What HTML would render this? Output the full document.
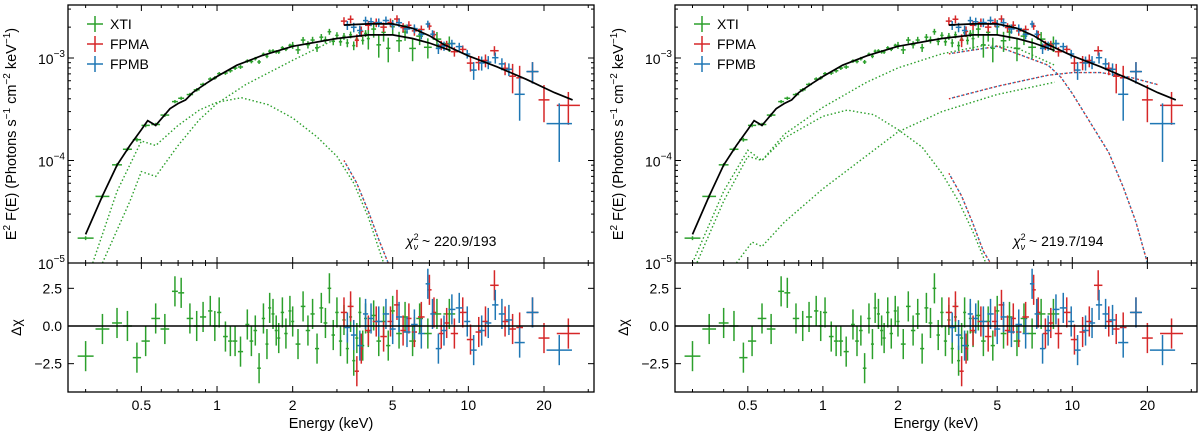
<!DOCTYPE html>
<html><head><meta charset="utf-8"><style>
html,body{margin:0;padding:0;background:#fff;width:1200px;height:433px;overflow:hidden}
svg{display:block;font-family:"Liberation Sans","DejaVu Sans",sans-serif}
</style></head><body>
<svg id="fig" width="1200" height="433" viewBox="0 0 1200 433" xmlns="http://www.w3.org/2000/svg"></svg>
<script>
// ---- data (shared observations) ----
const xtiE=[0.3,0.35,0.4,0.44,0.48,0.52,0.57,0.62,0.68,0.72,0.78,0.83,0.88,0.94,0.98,1.02,1.08,1.13,1.18,1.24,1.32,1.37,1.42,1.47,1.53,1.58,1.62,1.67,1.72,1.76,1.82,1.88,1.95,2.0,2.1,2.2,2.3,2.4,2.5,2.6,2.7,2.8,2.9,3.0,3.1,3.2,3.3,3.4,3.5,3.6,3.7,3.8,3.9,4.0,4.2,4.4,4.6,4.8,5.0,5.3,5.6,6.0,6.4,6.9,7.5,8.4];
const xtiRes=[-2.0,-0.2,0.2,0.0,-2.1,-1.0,0.5,-0.2,2.3,2.2,0.5,0.0,0.6,1.0,0.0,0.9,-0.7,-1.0,-1.0,-1.7,0.1,-1.0,-0.3,-2.8,0.5,-1.2,1.2,0.8,-0.3,-0.8,0.9,-0.5,1.0,0.3,-1.2,1.3,-0.3,0.8,-1.5,1.2,0.2,2.5,-0.6,0.9,-1.0,0.4,-1.5,0.6,-2.3,-0.8,0.9,-1.3,0.5,-0.4,0.7,-1.0,0.3,-1.3,1.0,-0.5,0.6,-1.0,0.5,-0.5,0.8,0.8];
const fpmaE=[3.2,3.4,3.6,3.75,4.0,4.3,4.6,4.9,5.2,5.5,5.8,6.1,6.5,7.0,7.3,7.8,8.2,8.8,9.5,10.2,11.0,11.7,12.7,14.0,15.0,16.0,18.0,20.0,25.0];
const fpmaRes=[0.9,1.3,-3.0,-1.5,-0.3,0.3,-0.7,0.3,1.4,-0.3,0.5,-0.4,0.6,2.4,0.9,-0.5,0.2,-0.5,0.9,-0.9,-0.4,0.3,2.7,0.3,-0.2,-0.1,0.9,-0.8,-0.5];
const fpmbE=[3.3,3.5,3.7,3.9,4.1,4.4,4.7,5.0,5.3,5.7,6.1,6.5,6.9,7.2,7.6,8.0,8.6,9.2,9.9,10.5,11.3,12.0,12.8,13.6,14.5,16.0,18.0,23.0];
const fpmbRes=[-0.1,-0.6,-1.3,0.8,0.5,0.3,0.8,-0.2,0.6,-0.4,0.1,-0.5,2.8,0.8,-1.5,-0.3,1.1,1.2,0.3,-1.6,-0.3,0.2,1.4,0.8,0.4,-1.1,0.9,-1.6];
// ---- models ----
const mXtiE=[0.3,0.35,0.4,0.45,0.5,0.53,0.57,0.65,0.7,0.75,0.8,0.9,1,1.2,1.5,2,3,4,5,6,7,8.5];
const mXtiF=[1.9e-5,4.5e-5,9e-5,1.4e-4,2.0e-4,2.45e-4,2.2e-4,3.2e-4,3.6e-4,3.9e-4,4.6e-4,5.6e-4,6.6e-4,8.5e-4,1.05e-3,1.3e-3,1.55e-3,1.68e-3,1.68e-3,1.55e-3,1.4e-3,1.18e-3];
const mNuE=[3.2,4,5,6,7,8,10,13,17,22,26];
const mNuF=[2.1e-3,2.15e-3,2.15e-3,1.95e-3,1.65e-3,1.35e-3,1.05e-3,8.2e-4,6.2e-4,4.6e-4,3.9e-4];
// left components
const L_diskE=[0.32,0.4,0.5,0.57,0.7,0.85,1,1.25,1.6,2,2.5,3,3.5,4,4.6];
const L_diskF=[1e-5,5e-5,1.55e-4,1.4e-4,2.2e-4,3.1e-4,3.7e-4,4.1e-4,3.5e-4,2.6e-4,1.7e-4,1.1e-4,6e-5,2.8e-5,1e-5];
const L_compE=[0.35,0.45,0.5,0.57,0.7,0.85,1,1.3,2,3];
const L_compF=[1e-5,4e-5,7.8e-5,7e-5,1.4e-4,2.5e-4,3.6e-4,5.5e-4,9.5e-4,1.55e-3];
const L_nuDiskE=[3.2,3.6,4,4.4,4.8];
const L_nuDiskF=[1e-4,6e-5,3.2e-5,1.7e-5,1e-5];
// right components
const R_c1E=[0.3,0.4,0.5,0.57,0.7,1,1.5,2,3,4.5,6,8.5];
const R_c1F=[1e-5,5e-5,1.26e-4,1e-4,1.8e-4,3.3e-4,5.8e-4,8e-4,1.1e-3,1.34e-3,1.25e-3,8.5e-4];
const R_nuC1E=[3.2,5,8,9,10,12,14,16,18,20];
const R_nuC1F=[1.1e-3,1.3e-3,8.5e-4,6.5e-4,4.5e-4,2.2e-4,1.2e-4,5.5e-5,2.5e-5,1e-5];
const R_diskE=[0.3,0.4,0.5,0.57,0.7,1,1.25,1.6,2,2.5,3,3.5,4,4.5];
const R_diskF=[8e-6,4e-5,1.1e-4,1e-4,1.65e-4,2.7e-4,3.1e-4,2.8e-4,2e-4,1.35e-4,7.5e-5,4e-5,2e-5,1e-5];
const R_nuDiskE=[3.2,3.6,4,4.4,4.7];
const R_nuDiskF=[7.5e-5,4.5e-5,2.4e-5,1.3e-5,1e-5];
const R_plE=[0.45,0.52,0.57,0.7,1,2,3,5,8.5];
const R_plF=[1e-5,1.6e-5,1.45e-5,2.5e-5,5.3e-5,1.9e-4,3e-4,4.4e-4,5.8e-4];
const R_nuPlE=[3.2,5,8,10,13,17,22];
const R_nuPlF=[4e-4,5.3e-4,6.8e-4,7.2e-4,7.2e-4,6.5e-4,5.5e-4];
const xMajor=[0.5,1,2,5,10,20];
const xMinor=[0.3,0.4,0.6,0.7,0.8,0.9,3,4,6,7,8,9,30];
const resTicks=[-2.5,0,2.5];
const resLabels=["\u22122.5","0.0","2.5"];
const fluxMajor=[-5,-4,-3];
const chiLabels=["220.9/193","219.7/194"];

const NS="http://www.w3.org/2000/svg";
const svg=document.getElementById('fig');
const G='#2ca02c',R='#d62728',B='#1f77b4';
const LX0=-0.593,LX1=1.50,TOP=5,MID=263,BOT=392,YLOG0=-5,YLOG1=-2.483,RMIN=-4.38,RMAX=4.18;
const FS=14;
function el(tag,attrs,parent){const e=document.createElementNS(NS,tag);for(const k in attrs)e.setAttribute(k,attrs[k]);(parent||svg).appendChild(e);return e;}
function interp(E,xs,ys){const l=Math.log10(E);for(let i=0;i<xs.length-1;i++){const a=Math.log10(xs[i]),b=Math.log10(xs[i+1]);if(l<=b||i==xs.length-2){const t=(l-a)/(b-a);return Math.pow(10,Math.log10(ys[i])+t*(Math.log10(ys[i+1])-Math.log10(ys[i])));}}}
function xtiErr(E){return E<2?0.04:(E<4?0.08:0.2);}
function nuErr(E){return E<10?0.1:(E<15?0.15:0.3);}

function panel(x0,x1,idx,comps){
  const sx=E=>x0+(Math.log10(E)-LX0)/(LX1-LX0)*(x1-x0);
  const sy=F=>MID-(Math.log10(F)-YLOG0)/(YLOG1-YLOG0)*(MID-TOP);
  const sr=r=>MID+(RMAX-r)/(RMAX-RMIN)*(BOT-MID);
  const g=el('g',{});
  
  
  const cid='clip'+idx;
  const cp=el('clipPath',{id:cid},g);el('rect',{x:x0,y:TOP,width:x1-x0,height:MID-TOP},cp);
  const cid2='clipr'+idx;
  const cp2=el('clipPath',{id:cid2},g);el('rect',{x:x0,y:MID,width:x1-x0,height:BOT-MID},cp2);
  const up=el('g',{'clip-path':'url(#'+cid+')'},g);
  const lo=el('g',{'clip-path':'url(#'+cid2+')'},g);
  function curve(xs,ys,color,dash,w,off,name){
    const p=el('polyline',{points:xs.map((E,i)=>sx(E).toFixed(1)+','+sy(ys[i]).toFixed(1)).join(' '),fill:'none',stroke:color,'stroke-width':w,'stroke-dasharray':dash||'none','stroke-dashoffset':off||0},up);
    
    
  }
  comps.forEach(c=>{
    if(c.nu){curve(c.E,c.F,R,'1.6,3.2',1.4,0,'model-component-fpma');curve(c.E,c.F,B,'1.6,3.2',1.4,1.6,'model-component-fpmb');}
    else curve(c.E,c.F,G,'1.5,2.3',1.4,0,'model-component-xti');
  });
  function points(Es,Rs,color,errf,mE,mF,name){
    Es.forEach((E,i)=>{
      const l=Math.log10(E);
      const lp=i>0?Math.log10(Es[i-1]):l-(Math.log10(Es[i+1])-l);
      const ln=i<Es.length-1?Math.log10(Es[i+1]):l+(l-lp);
      const hw=Math.max(0.006,Math.min(l-lp,ln-l)/2*0.95);
      const xa=sx(Math.pow(10,l-hw)),xb=sx(Math.pow(10,l+hw)),xc=sx(E);
      const m=interp(E,mE,mF),s=errf(E)*m,F=m+Rs[i]*s;
      const gp=el('g',{stroke:color,'stroke-width':1.5},up);
      
      
      el('line',{x1:xa,x2:xb,y1:sy(F),y2:sy(F)},gp);
      el('line',{x1:xc,x2:xc,y1:sy(F-s),y2:sy(Math.max(F+s,1e-7))},gp);
      const gr=el('g',{stroke:color,'stroke-width':1.5},lo);
      
      
      el('line',{x1:xa,x2:xb,y1:sr(Rs[i]),y2:sr(Rs[i])},gr);
      el('line',{x1:xc,x2:xc,y1:sr(Rs[i]-1),y2:sr(Rs[i]+1)},gr);
    });
  }
  points(xtiE,xtiRes,G,xtiErr,mXtiE,mXtiF,'xti');
  points(fpmaE,fpmaRes,R,nuErr,mNuE,mNuF,'fpma');
  points(fpmbE,fpmbRes,B,nuErr,mNuE,mNuF,'fpmb');
  curve(mXtiE,mXtiF,'#000','',1.7,0,'model-total-xti');
  curve(mNuE,mNuF,'#000','',1.7,0,'model-total-nustar');
  const zl=el('line',{x1:x0,x2:x1,y1:sr(0),y2:sr(0),stroke:'#000','stroke-width':1.5},g);
  
  
  el('rect',{x:x0,y:TOP,width:x1-x0,height:BOT-TOP,fill:'none',stroke:'#000','stroke-width':1.3},g);
  el('line',{x1:x0,x2:x1,y1:MID,y2:MID,stroke:'#000','stroke-width':1.3},g);
  const tk=el('g',{stroke:'#000','stroke-width':1},g);
  function xt(E,len){const x=sx(E);if(x<x0||x>x1)return;
    [[TOP,1],[MID,-1],[MID,1],[BOT,-1]].forEach(([y,d])=>el('line',{x1:x,x2:x,y1:y,y2:y+d*len},tk));}
  xMajor.forEach(E=>xt(E,6));xMinor.forEach(E=>xt(E,3));
  xMajor.forEach(E=>{const t=el('text',{x:sx(E),y:410,'font-size':FS,'text-anchor':'middle',fill:'#000'},g);t.textContent=String(E);
    
    });
  fluxMajor.forEach(p=>{const y=sy(Math.pow(10,p));
    el('line',{x1:x0,x2:x0+6,y1:y,y2:y},tk);el('line',{x1:x1,x2:x1-6,y1:y,y2:y},tk);
    for(let k=2;k<10;k++){const yy=sy(k*Math.pow(10,p));if(yy<TOP)break;el('line',{x1:x0,x2:x0+3,y1:yy,y2:yy},tk);el('line',{x1:x1,x2:x1-3,y1:yy,y2:yy},tk);}
    const t=el('text',{x:x0-3,y:y+6,'font-size':FS,'text-anchor':'end',fill:'#000'},g);
    
    
    t.innerHTML='10<tspan dy="-7" font-size="10">\u2212'+(-p)+'</tspan>';});
  resTicks.forEach((r,i)=>{const y=sr(r);
    el('line',{x1:x0,x2:x0+6,y1:y,y2:y},tk);el('line',{x1:x1,x2:x1-6,y1:y,y2:y},tk);
    const t=el('text',{x:x0-6,y:y+5,'font-size':FS,'text-anchor':'end',fill:'#000'},g);t.textContent=resLabels[i];
    
    });
  const yl=el('text',{x:0,y:0,'font-size':14.5,'text-anchor':'middle',fill:'#000',transform:'translate('+(x0-52)+','+((TOP+MID)/2)+') rotate(-90)'},g);
  
  
  yl.innerHTML='E<tspan dy="-6" font-size="10">2</tspan><tspan dy="6"> F(E) (Photons s</tspan><tspan dy="-6" font-size="10">\u22121</tspan><tspan dy="6"> cm</tspan><tspan dy="-6" font-size="10">\u22122</tspan><tspan dy="6"> keV</tspan><tspan dy="-6" font-size="10">\u22121</tspan><tspan dy="6">)</tspan>';
  const rl=el('text',{x:0,y:0,'font-size':FS,'text-anchor':'middle',fill:'#000',transform:'translate('+(x0-47)+','+((MID+BOT)/2)+') rotate(-90)'},g);
  rl.textContent='\u0394\u03c7';
  
  
  const xl=el('text',{x:(x0+x1)/2,y:428,'font-size':FS+0.5,'text-anchor':'middle',fill:'#000'},g);
  xl.textContent='Energy (keV)';
  
  
  const ch=el('text',{x:x0+338,y:246,'font-size':FS,fill:'#000'},g);
  
  
  ch.innerHTML='<tspan font-style="italic">\u03c7</tspan><tspan dy="-6" font-size="9">2</tspan><tspan dx="-5" dy="10" font-size="9" font-style="italic">\u03bd</tspan><tspan dy="-4"> ~ '+chiLabels[idx]+'</tspan>';
  [['XTI',G],['FPMA',R],['FPMB',B]].forEach(([n,c],i)=>{
    const lg=el('g',{},g);
    
    
    const y=24+i*20,x=x0+27;
    el('line',{x1:x-8,x2:x+8,y1:y,y2:y,stroke:c,'stroke-width':1.5},lg);
    el('line',{x1:x,x2:x,y1:y-8,y2:y+8,stroke:c,'stroke-width':1.5},lg);
    const t=el('text',{x:x+15,y:y+5,'font-size':FS,fill:'#000'},lg);t.textContent=n;
  });
}
panel(68,594,0,[{E:L_compE,F:L_compF},{E:L_diskE,F:L_diskF},{E:L_nuDiskE,F:L_nuDiskF,nu:1}]);
panel(675,1197,1,[{E:R_c1E,F:R_c1F},{E:R_diskE,F:R_diskF},{E:R_plE,F:R_plF},{E:R_nuC1E,F:R_nuC1F,nu:1},{E:R_nuDiskE,F:R_nuDiskF,nu:1},{E:R_nuPlE,F:R_nuPlF,nu:1}]);
</script>
</body></html>
